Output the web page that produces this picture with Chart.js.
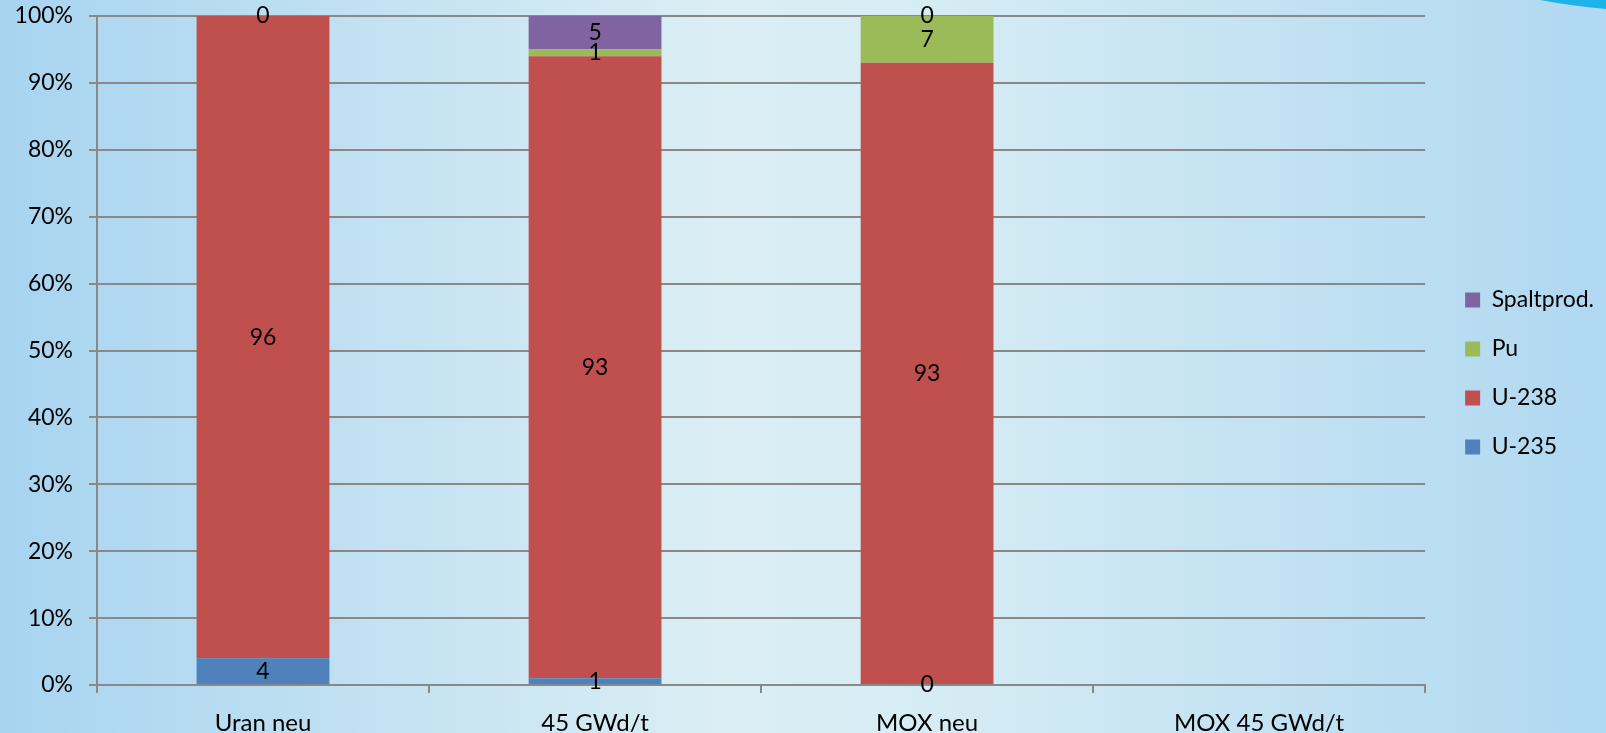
<!DOCTYPE html>
<html>
<head>
<meta charset="utf-8">
<script src="https://cdn.jsdelivr.net/npm/chart.js@4/dist/chart.umd.min.js"></script>
<style>
  html, body { margin: 0; padding: 0; background: #c4e3f3; }
  #wrap { width: 1606px; height: 733px; }
</style>
</head>
<body>
<div id="wrap"><canvas id="c" width="1606" height="733"></canvas></div>
<script>
// Fuel composition in percent, per fuel state
const categories = ['Uran neu', '45 GWd/t', 'MOX neu', 'MOX 45 GWd/t'];
const u235 = [4, 1, 0, null];
const u238 = [96, 93, 93, null];
const pu = [0, 1, 7, null];
const spaltprod = [null, 5, 0, null];
const yTicks = [0, 10, 20, 30, 40, 50, 60, 70, 80, 90, 100];

const FAMILY = 'Lato, "Open Sans", sans-serif';
const FONT = { family: FAMILY, size: 23 };
const XFONT = { family: FAMILY, size: 24 };
const GRID = '#898989';
const LEGEND_SHIFT_X = 14;
const LEGEND_SHIFT_Y = 7;

// Slide-style backdrop: soft horizontal blue gradient plus the corner swoosh
const backdrop = {
  id: 'backdrop',
  beforeDraw(chart) {
    const { ctx, width, height } = chart;
    ctx.save();
    const g = ctx.createLinearGradient(0, 0, width, 0);
    g.addColorStop(0, '#a8d4f0');
    g.addColorStop(0.45, '#dbeef4');
    g.addColorStop(0.58, '#d6ecf4');
    g.addColorStop(1, '#b0d8f1');
    ctx.fillStyle = g;
    ctx.fillRect(0, 0, width, height);
    ctx.fillStyle = '#1db2e8';
    ctx.beginPath();
    ctx.moveTo(1540, 0);
    ctx.quadraticCurveTo(1572, 6, width, 9);
    ctx.lineTo(width, 0);
    ctx.closePath();
    ctx.fill();
    ctx.restore();
  }
};

// Leave a wider gutter between the plot and the legend, and sit it a little lower
const legendGutter = {
  id: 'legendGutter',
  afterLayout(chart) {
    const lg = chart.legend;
    if (!lg) return;
    lg.left += LEGEND_SHIFT_X;
    lg.right += LEGEND_SHIFT_X;
    lg.top += LEGEND_SHIFT_Y;
    lg.bottom += LEGEND_SHIFT_Y;
  }
};

// Value labels centred on each stacked segment
const segmentLabels = {
  id: 'segmentLabels',
  afterDatasetsDraw(chart) {
    const { ctx } = chart;
    ctx.save();
    ctx.font = `${FONT.size}px ${FONT.family}`;
    ctx.fillStyle = '#000';
    ctx.textAlign = 'center';
    ctx.textBaseline = 'middle';
    chart.data.datasets.forEach((ds, i) => {
      const meta = chart.getDatasetMeta(i);
      meta.data.forEach((bar, j) => {
        const v = ds.data[j];
        if (v === null || v === undefined) return;
        ctx.fillText(String(v), bar.x, (bar.y + bar.base) / 2);
      });
    });
    ctx.restore();
  }
};

new Chart(document.getElementById('c'), {
  type: 'bar',
  data: {
    labels: categories,
    datasets: [
      { label: 'U-235', data: u235, backgroundColor: '#4f81bd' },
      { label: 'U-238', data: u238, backgroundColor: '#c0504d' },
      { label: 'Pu', data: pu, backgroundColor: '#9bbb59' },
      { label: 'Spaltprod.', data: spaltprod, backgroundColor: '#8064a2' }
    ]
  },
  options: {
    responsive: false,
    animation: false,
    layout: { padding: { top: 0, right: 16, bottom: 0, left: 0 } },
    datasets: { bar: { categoryPercentage: 1, barPercentage: 0.4, borderWidth: 0 } },
    scales: {
      x: {
        stacked: true,
        offset: true,
        grid: { offset: true, drawOnChartArea: false, drawTicks: true, tickLength: 8, color: GRID, lineWidth: 2 },
        border: { color: GRID, width: 2 },
        ticks: { color: '#000', font: XFONT, padding: 16 },
        afterFit(scale) { scale.height = 48; }
      },
      y: {
        stacked: true,
        min: 0,
        max: 100,
        afterBuildTicks(scale) { scale.ticks = yTicks.map(v => ({ value: v })); },
        grid: { color: GRID, lineWidth: 2, tickLength: 8 },
        border: { color: GRID, width: 2 },
        ticks: { color: '#000', font: FONT, padding: 16, callback: v => v + '%' },
        afterFit(scale) {
          scale.width = 97;
          scale.paddingTop = 16;
          scale.paddingBottom = 0;
        }
      }
    },
    plugins: {
      legend: {
        position: 'right',
        reverse: true,
        labels: { color: '#000', font: FONT, boxWidth: 15, boxHeight: 15, padding: 26 }
      },
      tooltip: { enabled: false }
    }
  },
  plugins: [backdrop, legendGutter, segmentLabels]
});
</script>
</body>
</html>
